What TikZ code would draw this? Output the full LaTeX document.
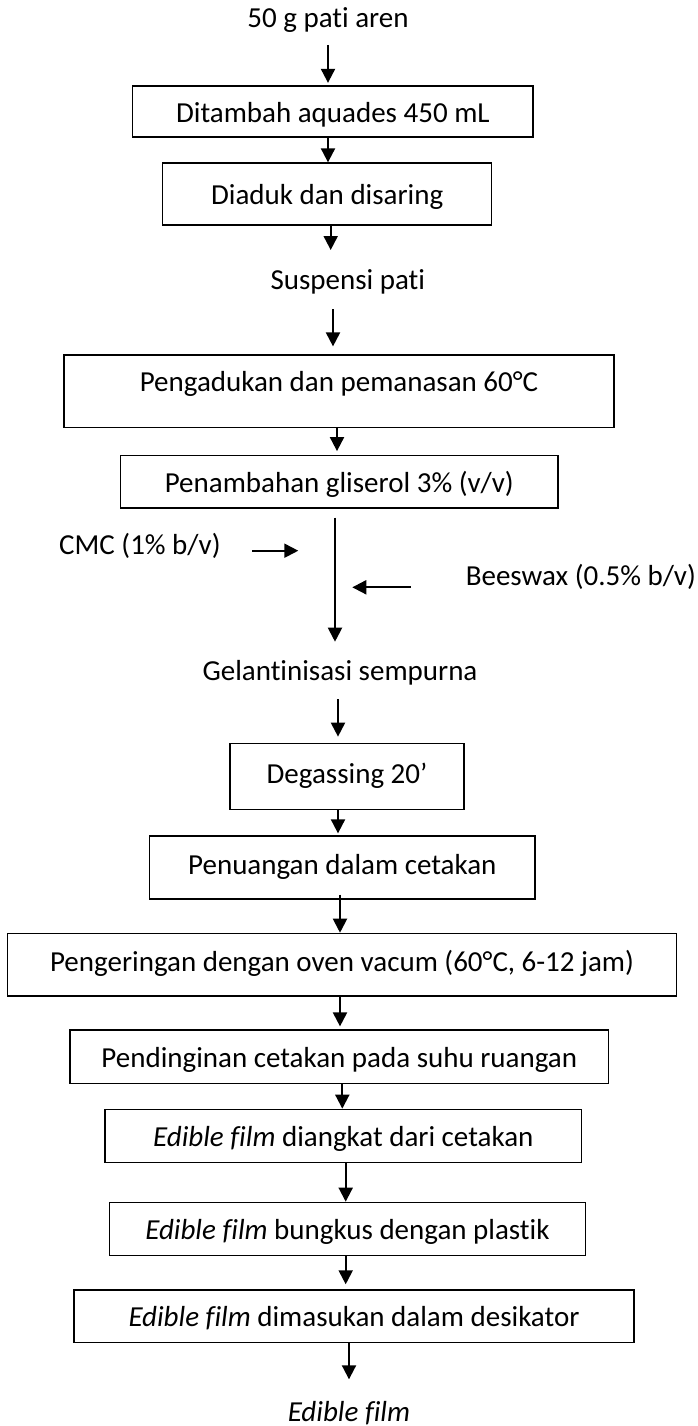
\documentclass[tikz,border=0pt]{standalone}
\usepackage{fontspec}
\setmainfont{Carlito}[Ligatures=NoCommon]
\usetikzlibrary{arrows.meta,calc}
\begin{document}
\begin{tikzpicture}[x=1pt,y=-1pt,
  font=\fontsize{29}{34}\selectfont,
  stepbox/.style={draw, line width=1.3pt, inner sep=0pt, text height=21pt, text depth=0pt},
  lowbox/.style={stepbox, text height=14pt},
  lbl/.style={inner sep=0pt, anchor=base},
  flow/.style={line width=2pt, -{Triangle[width=14pt,length=14pt]}}]
\useasboundingbox (0,0) rectangle (697,1426);

% process steps
\node[lbl] (t0) at (328,28) {50 g pati aren};
\node[stepbox, minimum width=400.3pt, minimum height=51pt] (b1) at (332.9,111.5) {Ditambah aquades 450 mL};
\node[stepbox, minimum width=329pt, minimum height=62pt] (b2) at (327.2,194) {Diaduk dan disaring};
\node[lbl] (t1) at (347.8,289) {Suspensi pati};
\node[stepbox, text height=11pt, text depth=10pt, minimum width=550pt, minimum height=72.3pt] (b3) at (339,391.2) {Pengadukan dan pemanasan 60°C};
\node[stepbox, minimum width=437.5pt, minimum height=52.3pt] (b4) at (339.3,481.9) {Penambahan gliserol 3\% (v/v)};
\node[lbl, anchor=base west] (cmc) at (59,554) {CMC (1\% b/v)};
\node[lbl, anchor=base west] (bw) at (465.6,585) {Beeswax (0.5\% b/v)};
\node[lbl] (t2) at (340,680) {Gelantinisasi sempurna};
\node[lowbox, minimum width=234pt, minimum height=66pt] (b5) at (347,776.3) {Degassing 20’};
\node[lowbox, minimum width=385.5pt, minimum height=63pt] (b6) at (342.3,867.5) {Penuangan dalam cetakan};
\node[lowbox, minimum width=668.7pt, minimum height=62.7pt] (b7) at (342,964.7) {Pengeringan dengan oven vacum (60°C, 6-12 jam)};
\node[stepbox, minimum width=538.5pt, minimum height=53.3pt] (b8) at (339.3,1056.7) {Pendinginan cetakan pada suhu ruangan};
\node[stepbox, minimum width=476.7pt, minimum height=53pt] (b9) at (343.3,1135.8) {\textit{Edible film} diangkat dari cetakan};
\node[stepbox, minimum width=476.4pt, minimum height=53.4pt] (b10) at (347.5,1229) {\textit{Edible film} bungkus dengan plastik};
\node[stepbox, minimum width=560pt, minimum height=52.7pt] (b11) at (354,1316.3) {\textit{Edible film} dimasukan dalam desikator};
\node[lbl] (t3) at (349,1421) {\textit{Edible film}};

% side inputs
\coordinate (cmcTip) at (298.3,550.7);
\coordinate (bwTip) at (352.3,587.3);

% connectors
\draw[flow] ($(t0.base)+(0,17)$) -- ($(t0.base |- b1.north)+(0,-2.5)$);
\draw[flow] (328,0 |- b1.south) -- (328,0 |- b2.north);
\draw[flow] (330.7,0 |- b2.south) -- ($(330.7,0 |- t1.base)+(0,-39)$);
\draw[flow] ($(333,0 |- t1.base)+(0,20)$) -- ($(333,0 |- b3.north)+(0,-8)$);
\draw[flow] (337,0 |- b3.south) -- ($(337,0 |- b4.north)+(0,-4)$);
\draw[flow] ($(335,0 |- b4.south)+(0,9)$) -- ($(335,0 |- t2.base)+(0,-38.3)$);
\draw[flow] ($(cmc.base east)+(31.7,-3.3)$) -- (cmcTip);
\draw[flow] ($(bw.base west)+(-54.9,2.3)$) -- (bwTip);
\draw[flow] ($(338,0 |- t2.base)+(0,19.3)$) -- ($(338,0 |- b5.north)+(0,-6)$);
\draw[flow] (338,0 |- b5.south) -- ($(338,0 |- b6.north)+(0,-2)$);
\draw[flow] ($(340,0 |- b6.south)+(0,-5)$) -- (340,0 |- b7.north);
\draw[flow] (340,0 |- b7.south) -- ($(340,0 |- b8.north)+(0,-3)$);
\draw[flow] (342.3,0 |- b8.south) -- (342.3,0 |- b9.north);
\draw[flow] (345.7,0 |- b9.south) -- (345.7,0 |- b10.north);
\draw[flow] (345.7,0 |- b10.south) -- ($(345.7,0 |- b11.north)+(0,-5)$);
\draw[flow] (349,0 |- b11.south) -- ($(349,0 |- t3.base)+(0,-41.7)$);
\end{tikzpicture}
\end{document}
